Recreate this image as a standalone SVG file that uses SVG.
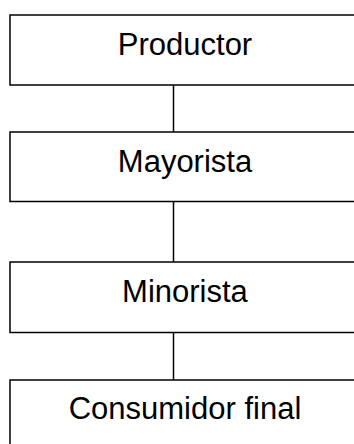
<svg xmlns="http://www.w3.org/2000/svg" width="354" height="444" viewBox="0 0 354 444">
<style>
.box{fill:#fff;stroke:#000;stroke-width:1.5}
.lbl{font-family:"Liberation Sans",Arial,sans-serif;font-size:31px;fill:#000;text-anchor:middle}
.conn{stroke:#000;stroke-width:1.5;fill:none}
</style>
<rect width="354" height="444" fill="#fff"/>
<g id="connectors">
<line class="conn" x1="173.5" y1="85" x2="173.5" y2="132"/>
<line class="conn" x1="173.5" y1="201.5" x2="173.5" y2="262"/>
<line class="conn" x1="173.5" y1="332.5" x2="173.5" y2="380"/>
</g>
<g id="productor">
<rect class="box" x="10" y="15" width="349" height="70"/>
<text class="lbl" x="185" y="54.5">Productor</text>
</g>
<g id="mayorista">
<rect class="box" x="10" y="132" width="349" height="69.5"/>
<text class="lbl" x="185" y="171.7">Mayorista</text>
</g>
<g id="minorista">
<rect class="box" x="10" y="262" width="349" height="70.5"/>
<text class="lbl" x="185" y="301.7">Minorista</text>
</g>
<g id="consumidor">
<rect class="box" x="10" y="380" width="349" height="70"/>
<text class="lbl" x="185" y="419.3">Consumidor final</text>
</g>
</svg>
